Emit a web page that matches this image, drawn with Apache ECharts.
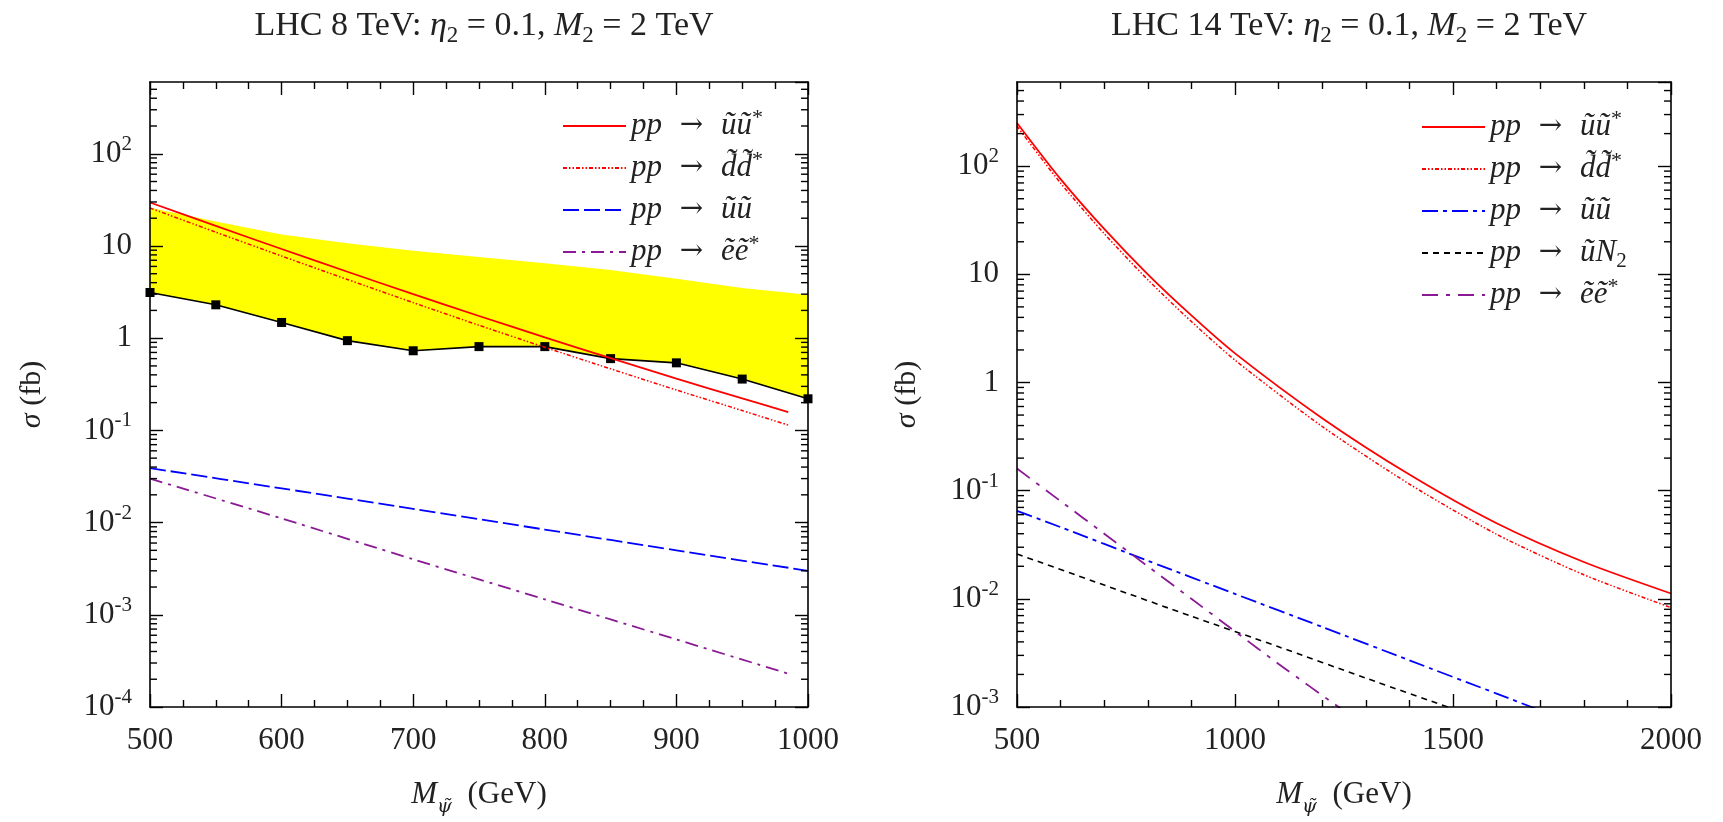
<!DOCTYPE html>
<html>
<head>
<meta charset="utf-8">
<script src="https://cdn.jsdelivr.net/npm/echarts@6/dist/echarts.min.js"></script>
<style>
html,body{margin:0;padding:0;background:#fff;}
#chart{width:1723px;height:822px;}
</style>
</head>
<body>
<div id="chart"></div>
<script>
// ---------- data: left panel (LHC 8 TeV) ----------
const leftRedX   = [500, 550, 600, 650, 700, 750, 800, 850, 900, 950, 985];
const leftUUstar = [29.6, 16.5, 9.27, 5.25, 3.0, 1.74, 1.02, 0.607, 0.365, 0.222, 0.158];
const leftDDstar = [25.8, 14.1, 7.78, 4.33, 2.43, 1.38, 0.796, 0.465, 0.274, 0.164, 0.114];
const leftUUX    = [500, 600, 700, 800, 900, 1000];
const leftUU     = [0.039, 0.0235, 0.0141, 0.0084, 0.0050, 0.0030];
const leftEEX    = [500, 600, 700, 800, 900, 985];
const leftEE     = [0.030, 0.0111, 0.0040, 0.00147, 0.00054, 0.00023];
const bandX      = [500, 550, 600, 650, 700, 750, 800, 850, 900, 950, 1000];
const bandUpper  = [26, 18.4, 13.3, 10.7, 8.9, 7.6, 6.5, 5.5, 4.4, 3.5, 2.95];
const bandLower  = [3.13, 2.30, 1.48, 0.94, 0.73, 0.81, 0.81, 0.60, 0.54, 0.36, 0.22];

// ---------- data: right panel (LHC 14 TeV) ----------
const rightRedX   = [500, 600, 700, 800, 900, 1000, 1200, 1400, 1600, 1800, 2000];
const rightUUstar = [251, 75.9, 26.3, 10.0, 4.17, 1.86, 0.468, 0.141, 0.050, 0.0219, 0.0112];
const rightDDstar = [234, 69.7, 23.8, 8.91, 3.66, 1.61, 0.392, 0.115, 0.0395, 0.0167, 0.0083];
const rightUUX    = [500, 600, 800, 1000, 1200, 1400, 1600, 1700];
const rightUU     = [0.065, 0.046, 0.0225, 0.0111, 0.0055, 0.0027, 0.00133, 0.00093];
const rightUNX    = [500, 700, 900, 1100, 1300, 1500];
const rightUN     = [0.026, 0.0134, 0.0069, 0.0036, 0.00185, 0.00096];
const rightEEX    = [500, 600, 700, 800, 900, 1000, 1100, 1250];
const rightEE     = [0.16, 0.0800, 0.0400, 0.0200, 0.0100, 0.0050, 0.0025, 0.00092];

// ---------- axis ranges / labels ----------
const leftXRange  = [500, 1000];
const rightXRange = [500, 2000];
const leftYRange  = [1e-4, 600];
const rightYRange = [1e-3, 600];
const titles = ['{t|LHC 8 TeV: }{i|η}{s|2}{t| = 0.1, }{i|M}{s|2}{t| = 2 TeV}',
                '{t|LHC 14 TeV: }{i|η}{s|2}{t| = 0.1, }{i|M}{s|2}{t| = 2 TeV}'];
const legendText = {
  L1: '{i|pp}{a|  →  }{i|ũũ}{p|*}', L2: '{i|pp}{a|  →  }{i|d̃d̃}{p|*}', L3: '{i|pp}{a|  →  }{i|ũũ}', L4: '{i|pp}{a|  →  }{i|ẽẽ}{p|*}',
  R1: '{i|pp}{a|  →  }{i|ũũ}{p|*}', R2: '{i|pp}{a|  →  }{i|d̃d̃}{p|*}', R3: '{i|pp}{a|  →  }{i|ũũ}', R4: '{i|pp}{a|  →  }{i|ũN}{s|2}', R5: '{i|pp}{a|  →  }{i|ẽẽ}{p|*}'
};

const FONT = 'Liberation Serif';
const TXT = '#222';
const RED = '#ff0000', BLUE = '#0000ff', PURPLE = '#8a1a94', BLACK = '#000000';

const grids = [
  {left: 150, width: 658, top: 82, height: 625},
  {left: 1017, width: 654, top: 82, height: 625}
];

function pairs(xs, ys) { return xs.map((x, i) => [x, ys[i]]); }

function mathRich(size, lh) {
  return {
    t: {fontFamily: FONT, fontSize: size, color: TXT, lineHeight: lh, verticalAlign: 'middle'},
    a: {fontFamily: 'DejaVu Serif', fontSize: Math.round(size * 0.9), color: TXT, lineHeight: lh, verticalAlign: 'middle'},
    i: {fontFamily: FONT, fontStyle: 'italic', fontSize: size, color: TXT, lineHeight: lh, verticalAlign: 'middle'},
    s: {fontFamily: FONT, fontSize: Math.round(size * 0.68), color: TXT, lineHeight: Math.round(size * 0.7), verticalAlign: 'bottom'},
    p: {fontFamily: FONT, fontSize: Math.round(size * 0.7), color: TXT, lineHeight: Math.round(size * 0.7), verticalAlign: 'top'}
  };
}

function yLabel(v) {
  const e = Math.round(Math.log10(v));
  if (e === 0) return '{n|1}';
  if (e === 1) return '{n|10}';
  return '{n|10}{e|' + e + '}';
}
const yLabelRich = {
  n: {fontFamily: FONT, fontSize: 31, color: TXT, lineHeight: 40, verticalAlign: 'middle'},
  e: {fontFamily: FONT, fontSize: 21, color: TXT, lineHeight: 21, verticalAlign: 'top'}
};

function xAxes(gi, range, interval, minorSplit) {
  const common = {
    type: 'value', gridIndex: gi, min: range[0], max: range[1], interval: interval, z: 10,
    axisLine: {show: true, lineStyle: {color: '#000', width: 1.6}},
    axisTick: {show: true, inside: true, length: 13, lineStyle: {color: '#000', width: 1.4}},
    minorTick: {show: true, splitNumber: minorSplit, length: 7, lineStyle: {color: '#000', width: 1.4}},
    splitLine: {show: false}
  };
  return [
    Object.assign({}, common, {
      position: 'bottom',
      axisLabel: {show: true, margin: 18, fontFamily: FONT, fontSize: 31, color: TXT, formatter: v => String(v)},
      name: '{i|M}{s|ψ̃}{t|  (GeV)}', nameLocation: 'middle', nameGap: 66,
      nameTextStyle: {fontFamily: FONT, fontSize: 31, color: TXT, rich: {
        t: {fontFamily: FONT, fontSize: 31, color: TXT, lineHeight: 44, verticalAlign: 'middle'},
        i: {fontFamily: FONT, fontStyle: 'italic', fontSize: 31, color: TXT, lineHeight: 44, verticalAlign: 'middle'},
        s: {fontFamily: 'DejaVu Serif', fontStyle: 'italic', fontSize: 19, color: TXT, lineHeight: 22, verticalAlign: 'bottom'}
      }}
    }),
    Object.assign({}, common, {position: 'top', axisLabel: {show: false}})
  ];
}

function yAxes(gi, range, nameGap) {
  const common = {
    type: 'log', logBase: 10, gridIndex: gi, min: range[0], max: range[1], z: 10,
    axisLine: {show: true, lineStyle: {color: '#000', width: 1.6}},
    axisTick: {show: true, inside: true, length: 13, lineStyle: {color: '#000', width: 1.4}},
    splitLine: {show: false}
  };
  return [
    Object.assign({}, common, {
      position: 'left',
      axisLabel: {show: true, margin: 18, showMaxLabel: false, formatter: yLabel, rich: yLabelRich},
      name: '{i|σ}{t| (fb)}', nameLocation: 'middle', nameGap: nameGap, nameRotate: 90,
      nameTextStyle: {fontFamily: FONT, fontSize: 30, color: TXT, rich: mathRich(30, 36)}
    }),
    Object.assign({}, common, {position: 'right', axisLabel: {show: false}})
  ];
}

// minor log ticks drawn through the library's axis scale
function minorLogTicks(range) {
  return function (params, api) {
    const cs = params.coordSys;
    const children = [];
    const e0 = Math.floor(Math.log10(range[0])), e1 = Math.ceil(Math.log10(range[1]));
    for (let e = e0; e < e1; e++) {
      for (let m = 2; m <= 9; m++) {
        const v = m * Math.pow(10, e);
        if (v <= range[0] || v >= range[1]) continue;
        const y = api.coord([api.value(0), v])[1];
        children.push({type: 'line', shape: {x1: cs.x, y1: y, x2: cs.x + 7, y2: y},
          style: {stroke: '#000', lineWidth: 1.4}});
        children.push({type: 'line', shape: {x1: cs.x + cs.width - 7, y1: y, x2: cs.x + cs.width, y2: y},
          style: {stroke: '#000', lineWidth: 1.4}});
      }
    }
    return {type: 'group', children: children};
  };
}

function lineSeries(name, gi, data, color, dash, width) {
  return {
    name: name, type: 'line', xAxisIndex: gi * 2, yAxisIndex: gi * 2, data: data,
    symbol: 'none', showSymbol: false, smooth: 0.25, z: 4,
    lineStyle: {color: color, width: width || 1.8, type: dash || 'solid'},
    itemStyle: {color: color}, emphasis: {disabled: true}
  };
}

function legendOpt(names, left, top) {
  return {
    data: names, orient: 'vertical', left: left, top: top, itemWidth: 63, itemHeight: 14,
    itemGap: 4, selectedMode: false, formatter: n => legendText[n],
    itemStyle: {opacity: 0},
    textStyle: {fontFamily: FONT, fontSize: 31, color: TXT, lineHeight: 38, rich: mathRich(31, 38)}
  };
}

const option = {
  animation: false,
  backgroundColor: '#fff',
  title: titles.map((t, i) => ({
    text: t, left: grids[i].left + grids[i].width / 2, top: 0, textAlign: 'center',
    textStyle: {fontFamily: FONT, fontSize: 34, fontWeight: 'normal', color: TXT, rich: mathRich(34, 42)}
  })),
  grid: grids,
  xAxis: xAxes(0, leftXRange, 100, 4).concat(xAxes(1, rightXRange, 500, 5)),
  yAxis: yAxes(0, leftYRange, 100).concat(yAxes(1, rightYRange, 92)),
  legend: [
    legendOpt(['L1', 'L2', 'L3', 'L4'], 557, 102),
    legendOpt(['R1', 'R2', 'R3', 'R4', 'R5'], 1416, 103)
  ],
  series: [
    // yellow band between upper and lower limits
    {type: 'custom', xAxisIndex: 0, yAxisIndex: 0, data: [[bandX[0], bandLower[0]]], z: 1, silent: true,
     renderItem: function (params, api) {
       const up = bandX.map((x, i) => api.coord([x, bandUpper[i]]));
       const lo = bandX.map((x, i) => api.coord([x, bandLower[i]])).reverse();
       return {type: 'polygon', shape: {points: up.concat(lo)}, style: {fill: '#ffff00'}};
     }},
    {type: 'line', xAxisIndex: 0, yAxisIndex: 0, data: pairs(bandX, bandLower), z: 3,
     symbol: 'rect', symbolSize: 9, showSymbol: true, itemStyle: {color: '#000'},
     lineStyle: {color: '#000', width: 1.6}, emphasis: {disabled: true}},
    lineSeries('L1', 0, pairs(leftRedX, leftUUstar), RED, 'solid', 1.8),
    lineSeries('L2', 0, pairs(leftRedX, leftDDstar), RED, [4, 2, 1.5, 2, 1.5, 2], 1.5),
    lineSeries('L3', 0, pairs(leftUUX, leftUU), BLUE, [16, 5], 1.8),
    lineSeries('L4', 0, pairs(leftEEX, leftEE), PURPLE, [13, 6, 3, 6], 1.8),
    lineSeries('R1', 1, pairs(rightRedX, rightUUstar), RED, 'solid', 1.8),
    lineSeries('R2', 1, pairs(rightRedX, rightDDstar), RED, [4, 2, 1.5, 2, 1.5, 2], 1.5),
    lineSeries('R3', 1, pairs(rightUUX, rightUU), BLUE, [16, 5, 4, 5], 1.8),
    lineSeries('R4', 1, pairs(rightUNX, rightUN), BLACK, [6, 5], 1.6),
    lineSeries('R5', 1, pairs(rightEEX, rightEE), PURPLE, [16, 8, 4, 8], 1.8),
    // minor log ticks on both y sides
    {type: 'custom', xAxisIndex: 0, yAxisIndex: 0, data: [[leftXRange[0], 1]], z: 20, silent: true, clip: false,
     renderItem: minorLogTicks(leftYRange)},
    {type: 'custom', xAxisIndex: 2, yAxisIndex: 2, data: [[rightXRange[0], 1]], z: 20, silent: true, clip: false,
     renderItem: minorLogTicks(rightYRange)}
  ]
};

const chart = echarts.init(document.getElementById('chart'), null, {renderer: 'canvas'});
chart.setOption(option);
</script>
</body>
</html>
